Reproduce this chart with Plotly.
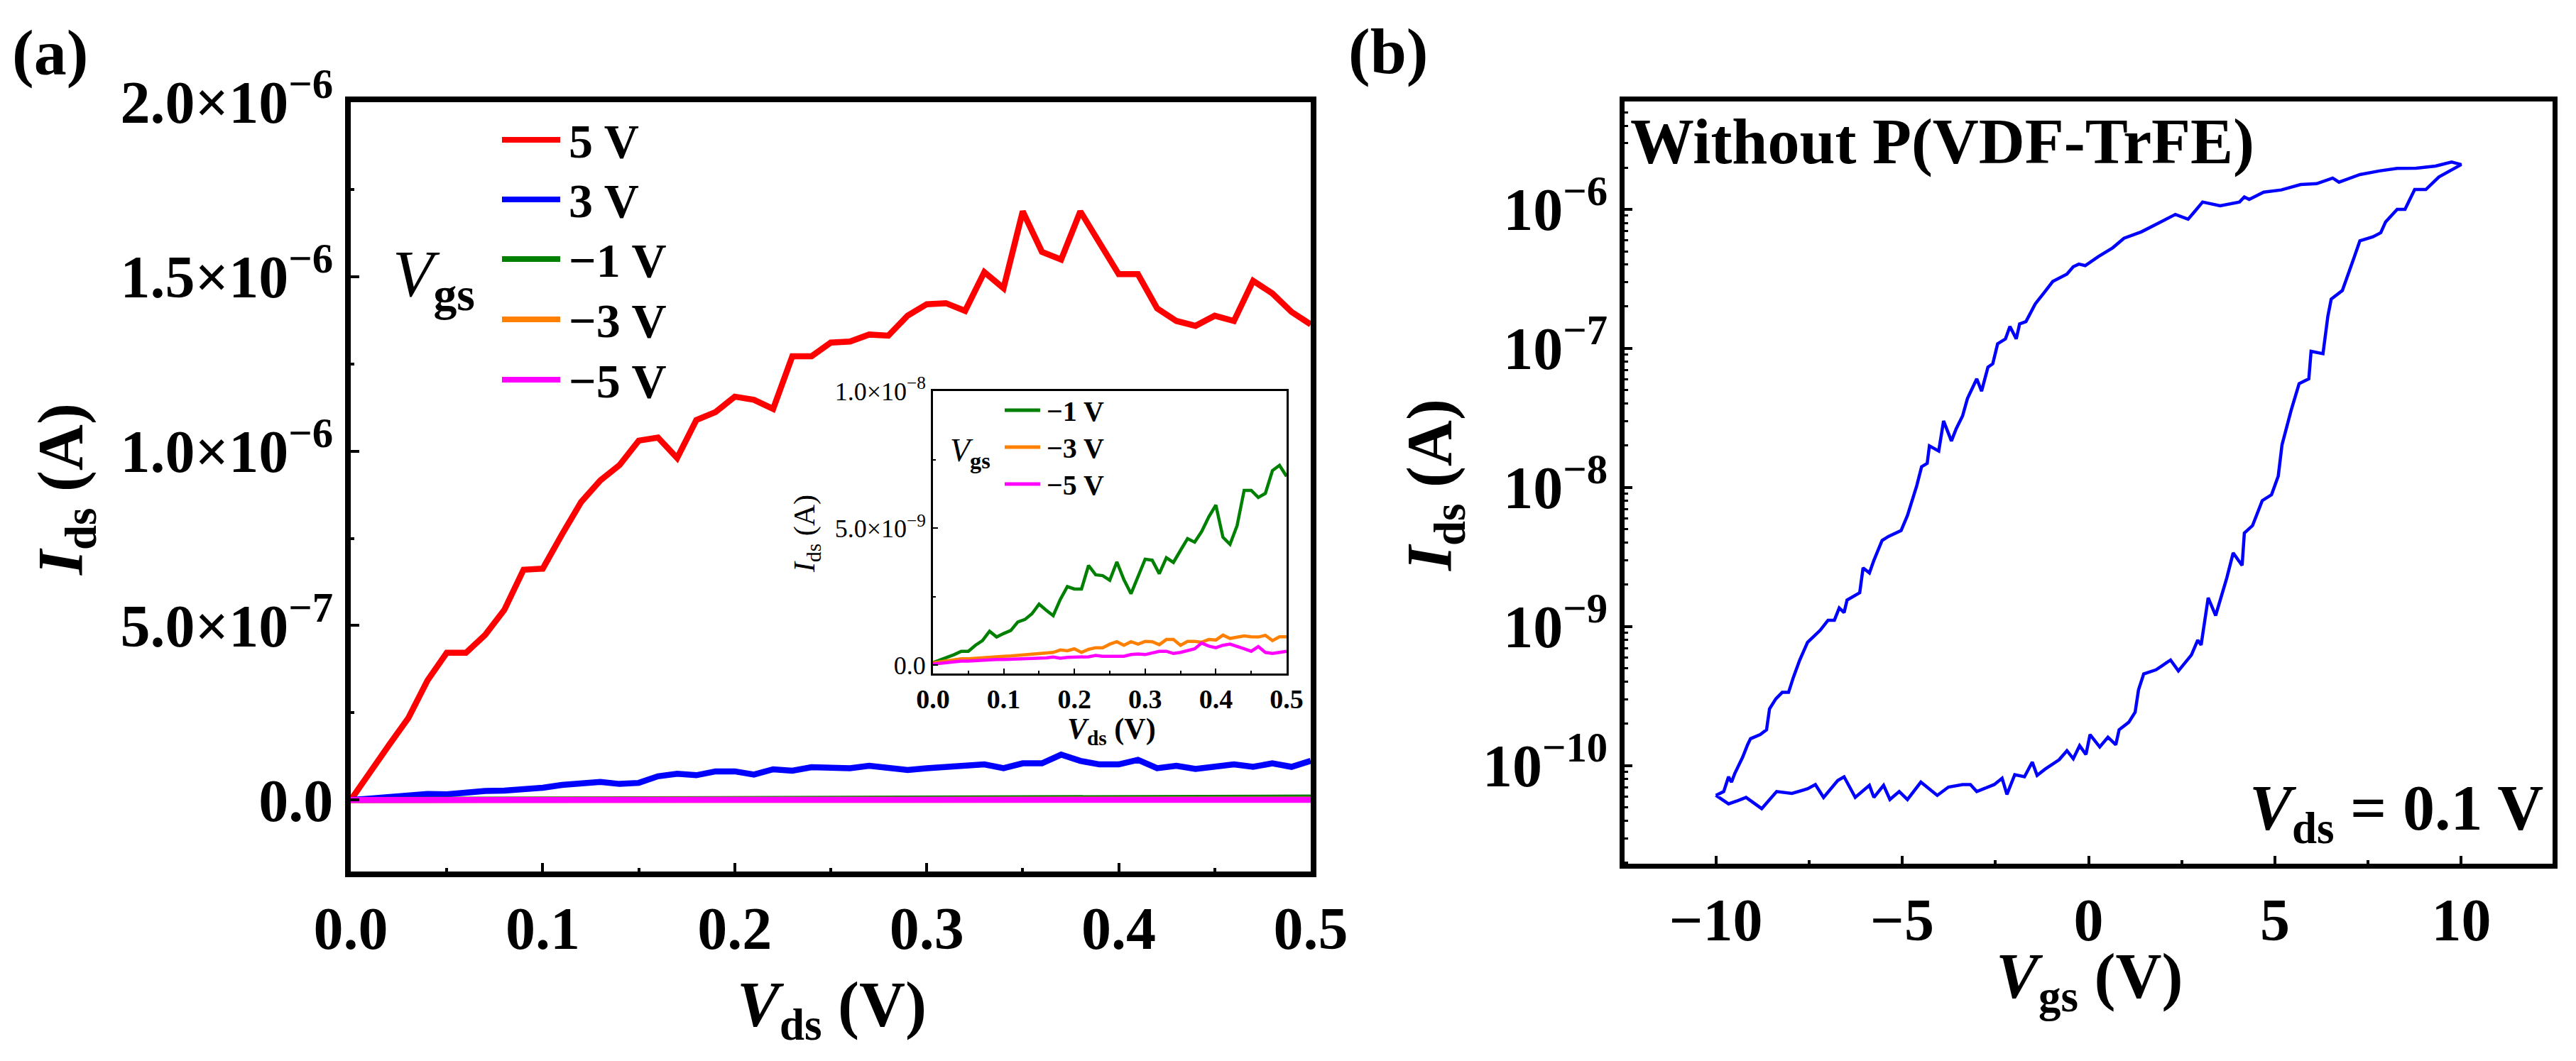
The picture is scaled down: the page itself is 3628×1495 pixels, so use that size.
import numpy as np
import plotly.graph_objects as go

# ---- data: panel (a), output curves Ids-Vds at several Vgs ----
vds = [0.00, 0.01, 0.02, 0.03, 0.04, 0.05, 0.06, 0.07, 0.08, 0.09,
       0.10, 0.11, 0.12, 0.13, 0.14, 0.15, 0.16, 0.17, 0.18, 0.19,
       0.20, 0.21, 0.22, 0.23, 0.24, 0.25, 0.26, 0.27, 0.28, 0.29,
       0.30, 0.31, 0.32, 0.33, 0.34, 0.35, 0.36, 0.37, 0.38, 0.39,
       0.40, 0.41, 0.42, 0.43, 0.44, 0.45, 0.46, 0.47, 0.48, 0.49, 0.50]

# Vgs = 5 V and 3 V, in uA
ids_p5_uA = [0.0, 0.081, 0.158, 0.235, 0.343, 0.422, 0.422, 0.473, 0.545, 0.660,
             0.663, 0.761, 0.854, 0.916, 0.960, 1.030, 1.039, 0.980, 1.089, 1.112,
             1.156, 1.147, 1.121, 1.272, 1.272, 1.311, 1.314, 1.334, 1.331, 1.388,
             1.421, 1.424, 1.402, 1.513, 1.467, 1.687, 1.571, 1.549, 1.687, 1.597,
             1.507, 1.507, 1.409, 1.373, 1.359, 1.388, 1.373, 1.488, 1.452, 1.399, 1.363]
ids_p3_uA = [0.0, 0.004, 0.009, 0.014, 0.017, 0.016, 0.022, 0.026, 0.027, 0.029,
             0.035, 0.043, 0.046, 0.052, 0.046, 0.049, 0.068, 0.075, 0.071, 0.082,
             0.082, 0.073, 0.088, 0.084, 0.094, 0.091, 0.091, 0.098, 0.091, 0.086,
             0.091, 0.094, 0.095, 0.102, 0.091, 0.105, 0.105, 0.130, 0.112, 0.102,
             0.102, 0.115, 0.091, 0.098, 0.089, 0.094, 0.102, 0.095, 0.105, 0.095, 0.112]
# Vgs = -1, -3, -5 V, in nA
ids_m1_nA = [0.10, 0.19, 0.27, 0.39, 0.51, 0.51, 0.73, 0.90, 1.24, 1.03,
             1.16, 1.27, 1.58, 1.67, 1.88, 2.23, 2.01, 1.81, 2.40, 2.87,
             2.78, 2.78, 3.64, 3.30, 3.27, 3.10, 3.77, 3.12, 2.61, 3.25,
             3.87, 3.83, 3.34, 3.92, 3.75, 4.19, 4.62, 4.49, 4.88, 5.41,
             5.84, 4.67, 4.41, 5.09, 6.38, 6.38, 6.12, 6.27, 7.10, 7.29, 6.89]
ids_m3_nA = [0.09, 0.13, 0.17, 0.21, 0.24, 0.24, 0.26, 0.27, 0.30, 0.33,
             0.33, 0.34, 0.36, 0.39, 0.41, 0.41, 0.45, 0.47, 0.56, 0.53,
             0.60, 0.47, 0.58, 0.64, 0.64, 0.77, 0.86, 0.73, 0.86, 0.77,
             0.87, 0.86, 0.75, 0.94, 0.94, 0.73, 0.87, 0.87, 0.84, 0.94,
             0.92, 1.10, 0.98, 1.03, 1.07, 1.04, 1.03, 1.09, 0.90, 1.04, 1.04]
ids_m5_nA = [0.04, 0.07, 0.10, 0.12, 0.15, 0.15, 0.17, 0.19, 0.20, 0.21,
             0.21, 0.22, 0.22, 0.23, 0.26, 0.26, 0.27, 0.30, 0.26, 0.29,
             0.30, 0.29, 0.31, 0.36, 0.33, 0.33, 0.34, 0.33, 0.39, 0.41,
             0.39, 0.45, 0.51, 0.51, 0.43, 0.47, 0.53, 0.60, 0.81, 0.70,
             0.64, 0.73, 0.77, 0.70, 0.60, 0.51, 0.68, 0.47, 0.43, 0.47, 0.51]

vgs_labels = ["5 V", "3 V", "\u22121 V", "\u22123 V", "\u22125 V"]
line_colors = ["#ff0000", "#0000ff", "#008000", "#ff8000", "#ff00ff"]

a_ytick_vals = [0, 5e-7, 1e-6, 1.5e-6, 2e-6]
a_ytick_text = ["0.0", "5.0\u00d710<sup>\u22127</sup>", "1.0\u00d710<sup>\u22126</sup>",
                "1.5\u00d710<sup>\u22126</sup>", "2.0\u00d710<sup>\u22126</sup>"]
inset_ytick_vals = [0, 5e-9, 1e-8]
inset_ytick_text = ["0.0", "5.0\u00d710<sup>\u22129</sup>", "1.0\u00d710<sup>\u22128</sup>"]

# ---- data: panel (b), transfer loop at Vds = 0.1 V ----
vgs_fwd = [-10.00, -9.66, -9.41, -9.19, -8.77, -8.37, -7.96, -7.54, -7.33, -7.11,
           -6.73, -6.56, -6.26, -5.88, -5.76, -5.50, -5.33, -5.08, -4.86, -4.50,
           -4.06, -3.76, -3.38, -3.17, -3.00, -2.53, -2.32, -2.19, -1.98, -1.72,
           -1.51, -1.38, -1.17, -0.96, -0.79, -0.58, -0.41, -0.24, -0.07, 0.04,
           0.30, 0.52, 0.73, 0.82, 1.08, 1.25, 1.34, 1.48, 1.81, 2.20,
           2.41, 2.76, 2.93, 3.02, 3.21, 3.41, 3.71, 3.88, 4.12, 4.18,
           4.40, 4.66, 4.91, 5.09, 5.19, 5.43, 5.65, 5.91, 5.97, 6.29,
           6.42, 6.51, 6.81, 7.11, 7.28, 7.63, 7.84, 7.97, 8.28, 8.49,
           8.75, 9.05, 9.40, 10.00]
ids_fwd = [6.1e-11, 5.3e-11, 5.6e-11, 5.9e-11, 4.9e-11, 6.5e-11, 6.3e-11, 6.8e-11, 7.3e-11, 5.9e-11,
           7.8e-11, 8.3e-11, 5.9e-11, 7.2e-11, 5.9e-11, 7.2e-11, 5.7e-11, 6.5e-11, 5.7e-11, 7.6e-11,
           6.1e-11, 7.0e-11, 7.3e-11, 7.3e-11, 6.5e-11, 7.3e-11, 8.1e-11, 6.2e-11, 8.6e-11, 8.3e-11,
           1.06e-10, 8.5e-11, 9.4e-11, 1.02e-10, 1.10e-10, 1.28e-10, 1.12e-10, 1.39e-10, 1.20e-10, 1.67e-10,
           1.36e-10, 1.60e-10, 1.41e-10, 1.81e-10, 2.05e-10, 2.42e-10, 3.50e-10, 4.56e-10, 4.88e-10, 5.74e-10,
           4.79e-10, 6.24e-10, 7.98e-10, 7.36e-10, 1.61e-9, 1.20e-9, 2.24e-9, 3.38e-9, 2.75e-9, 4.70e-9,
           5.32e-9, 8.04e-9, 8.87e-9, 1.21e-8, 2.02e-8, 3.55e-8, 5.58e-8, 6.05e-8, 9.53e-8, 9.16e-8,
           1.70e-7, 2.26e-7, 2.61e-7, 4.39e-7, 5.94e-7, 6.35e-7, 6.79e-7, 8.13e-7, 1.00e-6, 1.00e-6,
           1.39e-6, 1.39e-6, 1.71e-6, 2.10e-6]
vgs_rev = [10.00, 9.74, 9.31, 8.79, 8.28, 7.80, 7.28, 6.72, 6.55, 6.12,
           5.69, 5.17, 4.70, 4.31, 4.18, 4.05, 3.53, 3.06, 2.84, 2.67,
           2.33, 1.81, 1.42, 0.95, 0.65, 0.26, -0.09, -0.26, -0.41, -0.58,
           -0.96, -1.17, -1.43, -1.68, -1.85, -1.94, -2.11, -2.23, -2.44, -2.57,
           -2.70, -2.87, -3.00, -3.25, -3.38, -3.55, -3.68, -3.89, -4.02, -4.27,
           -4.33, -4.48, -4.61, -4.86, -5.03, -5.37, -5.54, -5.76, -5.88, -6.05,
           -6.14, -6.48, -6.56, -6.69, -6.82, -6.99, -7.20, -7.54, -7.75, -7.92,
           -8.05, -8.22, -8.39, -8.56, -8.64, -8.81, -9.07, -9.15, -9.28, -9.49,
           -9.58, -9.66, -9.79, -10.00]
ids_rev = [2.10e-6, 2.19e-6, 2.05e-6, 1.98e-6, 1.97e-6, 1.89e-6, 1.78e-6, 1.57e-6, 1.68e-6, 1.53e-6,
           1.51e-6, 1.38e-6, 1.33e-6, 1.18e-6, 1.23e-6, 1.13e-6, 1.06e-6, 1.13e-6, 9.6e-7, 8.5e-7,
           9.2e-7, 7.8e-7, 6.9e-7, 6.2e-7, 5.3e-7, 4.57e-7, 3.94e-7, 4.04e-7, 3.87e-7, 3.42e-7,
           3.03e-7, 2.56e-7, 2.09e-7, 1.56e-7, 1.50e-7, 1.17e-7, 1.44e-7, 1.17e-7, 1.08e-7, 7.76e-8,
           7.33e-8, 4.93e-8, 6.05e-8, 4.36e-8, 3.27e-8, 2.65e-8, 2.16e-8, 3.01e-8, 1.83e-8, 1.99e-8,
           1.49e-8, 1.41e-8, 1.03e-8, 6.28e-9, 4.90e-9, 4.44e-9, 4.16e-9, 2.99e-9, 2.43e-9, 2.64e-9,
           1.75e-9, 1.55e-9, 1.26e-9, 1.36e-9, 1.11e-9, 1.11e-9, 9.4e-10, 7.7e-10, 5.74e-10, 4.31e-10,
           3.36e-10, 3.36e-10, 3.02e-10, 2.56e-10, 1.81e-10, 1.67e-10, 1.56e-10, 1.41e-10, 1.15e-10, 8.8e-11,
           7.6e-11, 8.3e-11, 6.5e-11, 6.1e-11]

b_ytick_vals = [1e-10, 1e-9, 1e-8, 1e-7, 1e-6]
b_ytick_text = ["10<sup>\u221210</sup>", "10<sup>\u22129</sup>", "10<sup>\u22128</sup>",
                "10<sup>\u22127</sup>", "10<sup>\u22126</sup>"]

W, H = 3628, 1495
FONT = "Liberation Serif"


def px(x):
    # pixel column -> paper x
    return x / W


def py(y):
    # pixel row (from top) -> paper y
    return 1 - y / H


def font(size, bold=True):
    return dict(family=FONT, size=size, color="black", weight="bold" if bold else "normal")


ids_a = [np.array(ids_p5_uA) * 1e-6, np.array(ids_p3_uA) * 1e-6,
         np.array(ids_m1_nA) * 1e-9, np.array(ids_m3_nA) * 1e-9, np.array(ids_m5_nA) * 1e-9]

fig = go.Figure()

# main panel (a)
for ys, name, c in zip(ids_a, vgs_labels, line_colors):
    fig.add_trace(go.Scatter(x=vds, y=ys, name=name, mode="lines", line=dict(color=c, width=8.5),
                             xaxis="x", yaxis="y", showlegend=False))
# inset: negative gate voltages only
for ys, name, c in list(zip(ids_a, vgs_labels, line_colors))[2:]:
    fig.add_trace(go.Scatter(x=vds, y=ys, name=name, mode="lines", line=dict(color=c, width=4.5),
                             xaxis="x2", yaxis="y2", showlegend=False))
# panel (b) hysteresis loop
fig.add_trace(go.Scatter(x=vgs_fwd + vgs_rev, y=ids_fwd + ids_rev, mode="lines",
                         line=dict(color="#0000ff", width=4.5), xaxis="x3", yaxis="y3", showlegend=False))

frame = dict(showline=True, linecolor="black", mirror=True, showgrid=False, zeroline=False,
             ticks="inside", tickcolor="black", automargin=False)

fig.update_layout(
    template="none",
    width=W, height=H,
    margin=dict(l=0, r=0, t=0, b=0, pad=0),
    paper_bgcolor="white", plot_bgcolor="white",
    xaxis=dict(frame, domain=[px(494), px(1846)], range=[0, 0.5], anchor="y",
               tick0=0, dtick=0.1, tickformat=".1f", linewidth=8, ticklen=12, tickwidth=4,
               minor=dict(tickmode="linear", tick0=0, dtick=0.05, ticks="inside", ticklen=5, tickwidth=4),
               tickfont=font(84)),
    yaxis=dict(frame, domain=[py(1228), py(144)], range=[-2.05e-7, 2.0e-6], anchor="x",
               tickmode="array", tickvals=a_ytick_vals, ticktext=a_ytick_text,
               linewidth=8, ticklen=12, tickwidth=4,
               minor=dict(tickmode="linear", tick0=0, dtick=2.5e-7, ticks="inside", ticklen=5, tickwidth=4),
               tickfont=font(84)),
    xaxis2=dict(frame, domain=[px(1314), px(1812)], range=[0, 0.5], anchor="y2",
                tick0=0, dtick=0.1, tickformat=".1f", linewidth=3, ticklen=7, tickwidth=2,
                minor=dict(tickmode="linear", tick0=0, dtick=0.05, ticks="inside", ticklen=4, tickwidth=2),
                tickfont=font(38)),
    yaxis2=dict(frame, domain=[py(949), py(551)], range=[-3e-10, 1.0e-8], anchor="x2",
                tickmode="array", tickvals=inset_ytick_vals, ticktext=inset_ytick_text,
                linewidth=3, ticklen=7, tickwidth=2,
                minor=dict(tickmode="linear", tick0=0, dtick=2.5e-9, ticks="inside", ticklen=4, tickwidth=2),
                tickfont=font(36, bold=False)),
    xaxis3=dict(frame, domain=[px(2288), px(3595)], range=[-12.45, 12.45], anchor="y3",
                tickmode="array", tickvals=[-10, -5, 0, 5, 10],
                ticktext=["\u221210", "\u22125", "0", "5", "10"],
                linewidth=7, ticklen=11, tickwidth=4,
                minor=dict(tickmode="linear", tick0=0, dtick=2.5, ticks="inside", ticklen=5, tickwidth=4),
                tickfont=font(84)),
    yaxis3=dict(frame, type="log", domain=[py(1217), py(143)], range=[-10.706, -5.224], anchor="x3",
                tickmode="array", tickvals=b_ytick_vals, ticktext=b_ytick_text,
                linewidth=7, ticklen=11, tickwidth=4,
                minor=dict(dtick="D1", ticks="inside", ticklen=5, tickwidth=3),
                tickfont=font(84)),
)

ann = []
# panel labels
ann.append(dict(text="(a)", x=px(15), y=py(74), xanchor="left", yanchor="middle", font=font(92)))
ann.append(dict(text="(b)", x=px(1897), y=py(72), xanchor="left", yanchor="middle", font=font(92)))
# axis titles panel (a)
ann.append(dict(text="<i>I</i><sub>ds</sub> (A)", x=px(92), y=py(690), textangle=-90,
                xanchor="center", yanchor="middle", font=font(90)))
ann.append(dict(text="<i>V</i><sub>ds</sub> (V)", x=px(1171), y=py(1422),
                xanchor="center", yanchor="middle", font=font(90)))
# inset axis titles
ann.append(dict(text="<i>I</i><sub>ds</sub> (A)", x=px(1136), y=py(752), textangle=-90,
                xanchor="center", yanchor="middle", font=font(42, bold=False)))
ann.append(dict(text="<i>V</i><sub>ds</sub> (V)", x=px(1565), y=py(1030),
                xanchor="center", yanchor="middle", font=font(42)))
# axis titles panel (b)
ann.append(dict(text="<i>I</i><sub>ds</sub> (A)", x=px(2020), y=py(684), textangle=-90,
                xanchor="center", yanchor="middle", font=font(90)))
ann.append(dict(text="<i>V</i><sub>gs</sub> (V)", x=px(2943), y=py(1382),
                xanchor="center", yanchor="middle", font=font(90)))
# panel (b) notes
ann.append(dict(text="Without P(VDF-TrFE)", x=px(2294), y=py(200), xanchor="left", yanchor="middle",
                font=font(90)))
ann.append(dict(text="<i>V</i><sub>ds</sub> = 0.1 V", x=px(3584), y=py(1145), xanchor="right",
                yanchor="middle", font=font(90)))

shapes = []
# legend of main panel (a)
legend_rows = [197, 281, 365, 450, 535]
for name, c, yy in zip(vgs_labels, line_colors, legend_rows):
    shapes.append(dict(type="line", xref="paper", yref="paper", x0=px(707), x1=px(789),
                       y0=py(yy), y1=py(yy), line=dict(color=c, width=8)))
    ann.append(dict(text=name, x=px(799), y=py(yy + 2), xanchor="left", yanchor="middle", font=font(68)))
ann.append(dict(text="<i>V</i><sub><b>gs</b></sub>", x=px(551), y=py(392), xanchor="left",
                yanchor="middle", font=font(94, bold=False)))

# legend of inset
inset_rows = [578, 630, 682]
for name, c, yy in zip(vgs_labels[2:], line_colors[2:], inset_rows):
    shapes.append(dict(type="line", xref="paper", yref="paper", x0=px(1415), x1=px(1465),
                       y0=py(yy), y1=py(yy), line=dict(color=c, width=5)))
    ann.append(dict(text=name, x=px(1472), y=py(yy + 1), xanchor="left", yanchor="middle", font=font(40)))
ann.append(dict(text="<i>V</i><sub><b>gs</b></sub>", x=px(1336), y=py(638), xanchor="left",
                yanchor="middle", font=font(46, bold=False)))

for a in ann:
    a.update(xref="paper", yref="paper", showarrow=False)

fig.update_layout(annotations=ann, shapes=shapes)

fig.write_html("out.html", config={"displayModeBar": False},
               post_script="document.body.style.margin='0';")
